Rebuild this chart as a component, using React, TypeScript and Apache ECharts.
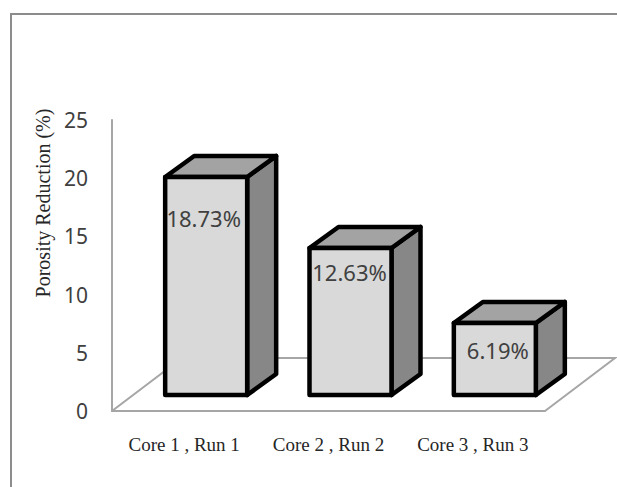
import React, { useEffect, useRef } from "react";
import * as echarts from "echarts";

const categories = ["Core 1 , Run 1", "Core 2 , Run 2", "Core 3 , Run 3"];
const reductions = [18.73, 12.63, 6.19];
const yTicks = [0, 5, 10, 15, 20, 25];
const yTitle = "Porosity Reduction (%)";

const GREY = "#a6a6a6";
const SERIF = "'Liberation Serif', serif";
const SANS = "'Noto Sans', sans-serif";
const LABEL = "#404040";

export default function App() {
  const ref = useRef<HTMLDivElement>(null);
  useEffect(() => {
    const chart = echarts.init(ref.current!, null, { renderer: "svg" });
    const labelDrop = [41, 24, 27];
    const labelShift = [-2.5, -1, 3];
    chart.setOption({
      animation: false,
      backgroundColor: "#fff",
      grid: { left: 112, top: 120, width: 433, height: 291, containLabel: false },
      graphic: [
        {
          type: "polyline",
          shape: { points: [[11, 487], [11, 14], [617, 14]] },
          style: { stroke: "#8c8c8c", lineWidth: 2, fill: "none" },
        },
        {
          type: "text",
          x: 43,
          y: 203,
          rotation: Math.PI / 2,
          style: {
            text: yTitle,
            font: `20px ${SERIF}`,
            fill: "#262626",
            align: "center",
            verticalAlign: "middle",
          },
        },
      ],
      xAxis: {
        type: "category",
        data: categories,
        axisTick: { show: false },
        axisLine: { lineStyle: { color: GREY, width: 2 } },
        axisLabel: {
          interval: 0,
          hideOverlap: false,
          margin: 24,
          color: "#262626",
          fontFamily: SERIF,
          fontSize: 19,
        },
      },
      yAxis: {
        type: "value",
        min: 0,
        max: 25,
        interval: 5,
        splitLine: { show: false },
        axisTick: { show: false },
        axisLine: { show: true, lineStyle: { color: GREY, width: 2 } },
        axisLabel: { margin: 24, color: LABEL, fontFamily: SANS, fontSize: 21, customValues: yTicks },
      },
      series: [
        {
          type: "custom",
          coordinateSystem: "cartesian2d",
          z: 1,
          silent: true,
          data: [[0, 0]],
          renderItem: (params: any) => {
            const c = params.coordSys;
            const y = c.y + c.height;
            const dx = 70;
            const dy = 53;
            return {
              type: "polyline",
              shape: {
                points: [
                  [c.x, y],
                  [c.x + dx, y - dy],
                  [c.x + c.width + dx, y - dy],
                  [c.x + c.width, y],
                ],
              },
              style: { stroke: GREY, lineWidth: 2, fill: "none" },
            };
          },
        },
        {
          type: "custom",
          coordinateSystem: "cartesian2d",
          z: 3,
          encode: { x: 0, y: 1 },
          data: reductions.map((v, i) => [i, v]),
          renderItem: (params: any, api: any) => {
            const idx = api.value(0);
            const val = api.value(1);
            const top = api.coord([idx, val]);
            const base = api.coord([idx, 0]);
            const lift = 16;
            const w = 82;
            const dx = 29;
            const dy = 21;
            const x0 = base[0] - 19;
            const x1 = x0 + w;
            const yT = top[1] - lift;
            const yB = base[1] - lift;
            const stroke = {
              stroke: "#000",
              lineWidth: 4.5,
              lineJoin: "round",
            };
            return {
              type: "group",
              children: [
                {
                  type: "polygon",
                  shape: { points: [[x1, yT], [x1 + dx, yT - dy], [x1 + dx, yB - dy], [x1, yB]] },
                  style: { fill: "#878787", ...stroke },
                },
                {
                  type: "polygon",
                  shape: { points: [[x0, yT], [x0 + dx, yT - dy], [x1 + dx, yT - dy], [x1, yT]] },
                  style: { fill: "#a3a3a3", ...stroke },
                },
                {
                  type: "rect",
                  shape: { x: x0, y: yT, width: w, height: yB - yT },
                  style: { fill: "#d9d9d9", ...stroke },
                },
                {
                  type: "text",
                  x: (x0 + x1) / 2 + labelShift[idx],
                  y: yT + labelDrop[idx],
                  style: {
                    text: `${val}%`,
                    font: `22px ${SANS}`,
                    fill: LABEL,
                    align: "center",
                    verticalAlign: "middle",
                  },
                },
              ],
            };
          },
        },
      ],
    });
    return () => chart.dispose();
  }, []);
  return (
    <div
      ref={ref}
      style={{ position: "absolute", left: 0, top: 0, width: 617, height: 487 }}
    />
  );
}
